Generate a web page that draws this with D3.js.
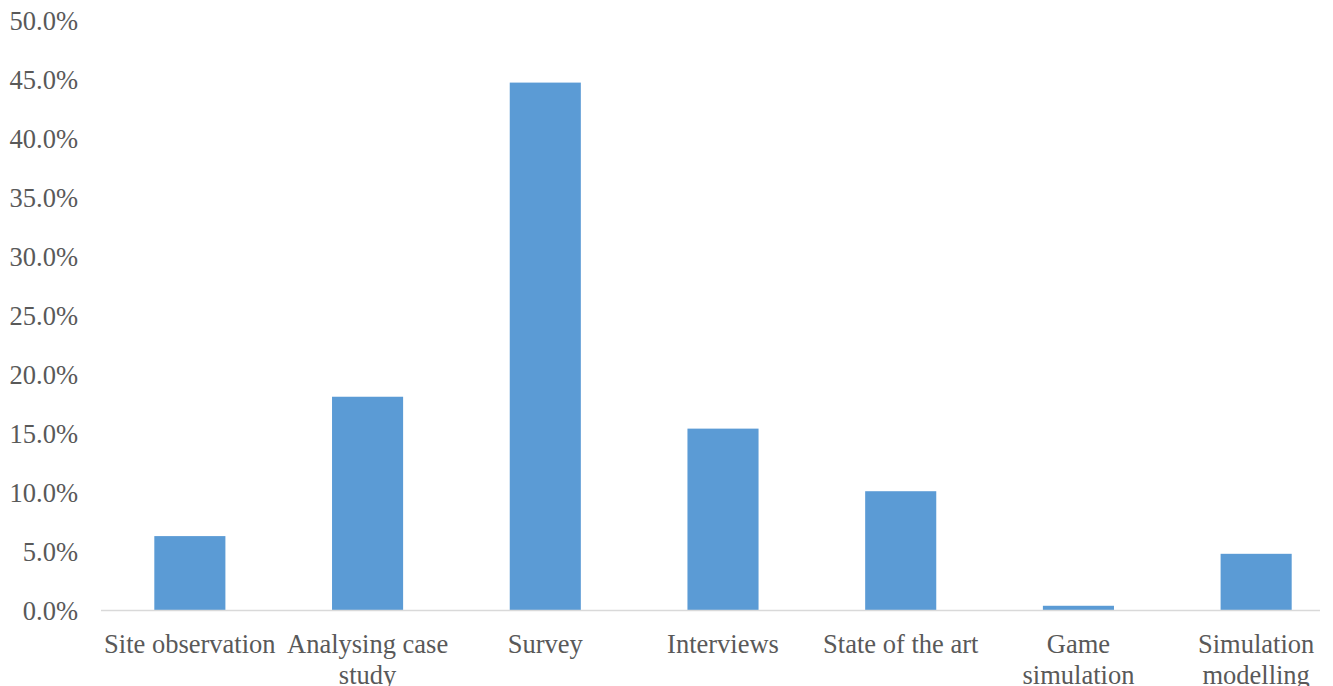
<!DOCTYPE html>
<html>
<head>
<meta charset="utf-8">
<script src="https://cdn.jsdelivr.net/npm/d3@7"></script>
<style>
  html, body { margin: 0; padding: 0; background: #fff; }
  svg { display: block; }
</style>
</head>
<body>
<svg id="chart" width="1333" height="686"></svg>
<script>
// Research methods and their share of the reviewed studies
const categories = ["Site observation", "Analysing case study", "Survey", "Interviews", "State of the art", "Game simulation", "Simulation modelling"];
const shares = [6.3, 18.1, 44.7, 15.4, 10.1, 0.4, 4.8];
const tickLabels = [["Site observation"], ["Analysing case", "study"], ["Survey"], ["Interviews"], ["State of the art"], ["Game", "simulation"], ["Simulation", "modelling"]];
const yTicks = [0, 5, 10, 15, 20, 25, 30, 35, 40, 45, 50];

const svg = d3.select("#chart");
const font = "'Liberation Serif', 'Times New Roman', serif";
const fontSize = 26.5;
const textColor = "#595959";

const x = d3.scaleBand()
  .domain(categories)
  .range([101, 1345])
  .paddingInner(0.6)
  .paddingOuter(0.3);

const y = d3.scaleLinear()
  .domain([0, 50])
  .range([610.5, 20]);

// y-axis labels (no axis line)
const yAxis = d3.axisLeft(y)
  .tickValues(yTicks)
  .tickSize(0)
  .tickPadding(0)
  .tickFormat(d => d.toFixed(1) + "%");

const gy = svg.append("g")
  .attr("transform", "translate(78,1)")
  .call(yAxis);
gy.select(".domain").remove();
gy.selectAll("text")
  .attr("font-family", font)
  .attr("font-size", fontSize)
  .attr("fill", textColor);

// bars
svg.append("g")
  .selectAll("rect")
  .data(categories)
  .join("rect")
  .attr("x", d => x(d))
  .attr("width", x.bandwidth())
  .attr("y", (d, i) => y(shares[i]))
  .attr("height", (d, i) => y(0) - y(shares[i]))
  .attr("fill", "#5b9bd5");

// baseline
svg.append("line")
  .attr("x1", x.range()[0])
  .attr("x2", 1320)
  .attr("y1", y(0))
  .attr("y2", y(0))
  .attr("stroke", "#d9d9d9")
  .attr("stroke-width", 1.5);

// category labels, wrapped over two lines where needed
const xAxis = d3.axisBottom(x).tickSize(0).tickFormat("");
const gx = svg.append("g")
  .attr("transform", `translate(0,${y(0)})`)
  .call(xAxis);
gx.select(".domain").remove();
gx.selectAll(".tick").each(function(d, i) {
  const t = d3.select(this).append("text")
    .attr("font-family", font)
    .attr("font-size", fontSize)
    .attr("fill", textColor)
    .attr("text-anchor", "middle");
  tickLabels[i].forEach((line, k) => {
    t.append("tspan")
      .attr("x", 0)
      .attr("y", 42 + k * 31)
      .text(line);
  });
});
</script>
</body>
</html>
